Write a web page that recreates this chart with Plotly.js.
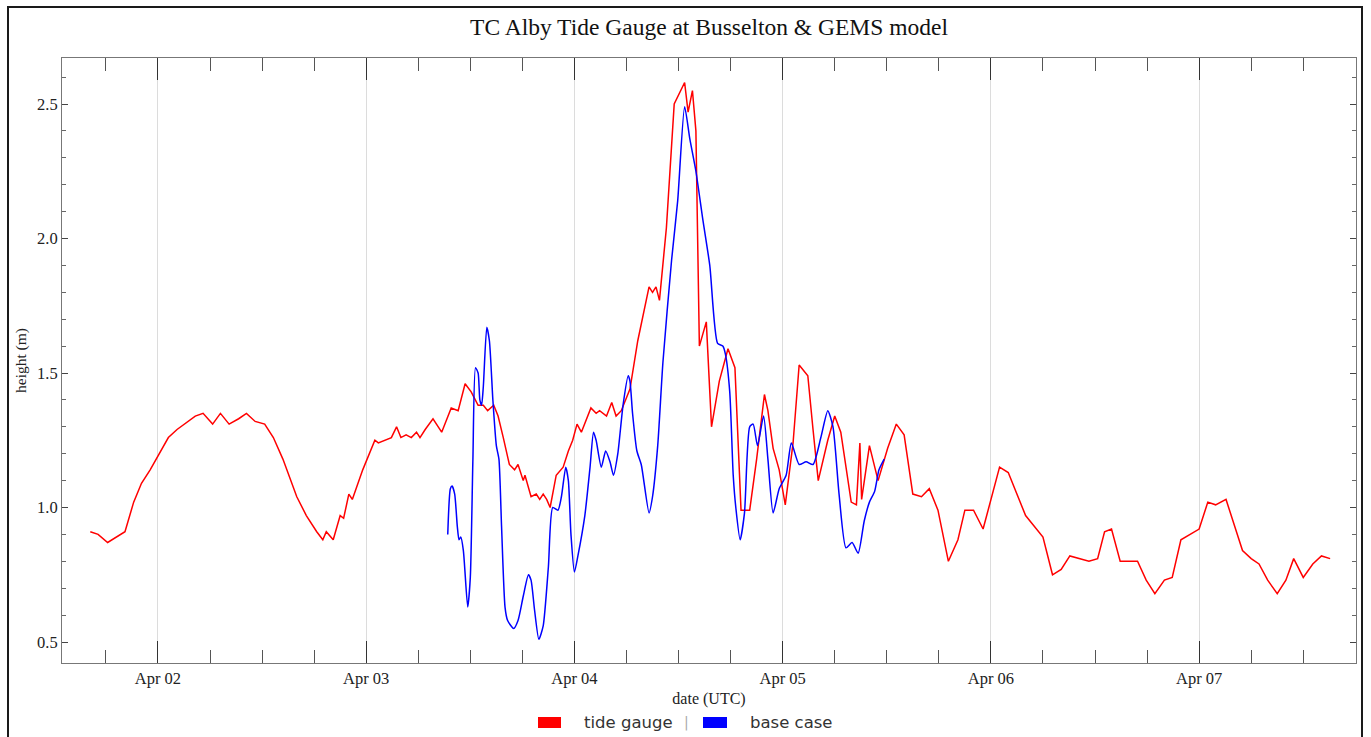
<!DOCTYPE html>
<html>
<head>
<meta charset="utf-8">
<script src="https://cdn.plot.ly/plotly-3.0.1.min.js"></script>
<style>
  html, body { margin: 0; padding: 0; background: #fff; }
  #wrap { position: relative; width: 1371px; height: 737px; overflow: hidden; }
  #chart { width: 1371px; height: 737px; }
  #frame { position: absolute; left: 7px; top: 6px; width: 1356px; height: 760px;
           border: 2px solid #1a1a1a; box-sizing: border-box; pointer-events: none; }
</style>
</head>
<body>
<div id="wrap">
  <div id="chart"></div>
  <div id="frame"></div>
</div>
<script>
// Hours since 1978-04-01 00:00 UTC
const tideHours = [16.2,17.1,18.2,19.2,20.2,21.2,22.1,23.1,24.0,25.2,
  26.2,27.1,28.3,29.2,30.3,31.2,32.2,33.3,34.2,35.2,
  36.3,37.3,38.4,40.0,41.1,42.3,43.0,43.4,44.2,45.0,
  45.4,46.0,46.4,47.6,49.0,49.4,50.9,51.5,52.0,52.6,
  53.2,53.8,54.2,54.8,55.7,56.7,57.8,58.6,59.4,60.1,
  60.9,61.5,62.0,62.7,63.2,63.8,64.5,65.1,65.5,66.1,
  66.3,67.0,67.6,68.0,68.4,68.8,69.2,69.9,70.7,71.3,
  71.8,72.3,72.8,73.9,74.5,74.9,75.7,76.3,76.8,77.4,
  78.4,79.3,80.1,80.6,81.0,81.4,81.8,82.6,83.5,84.3,
  84.7,85.1,85.6,86.0,86.4,87.2,87.8,88.7,89.7,90.5,
  91.2,92.2,93.0,93.9,94.3,94.9,95.6,96.3,97.2,97.9,
  98.9,99.5,100.1,101.2,102.0,102.7,103.9,104.5,104.9,105.1,
  106.0,107.0,108.1,109.1,110.0,111.0,112.0,112.9,113.9,115.1,
  116.2,117.0,118.0,119.1,121.0,122.0,124.0,126.0,127.1,128.1,
  129.1,131.3,132.3,133.1,133.9,134.9,136.0,136.9,137.9,138.9,
  140.0,140.9,141.9,143.0,144.0,145.0,145.9,147.1,149.0,150.0,
  150.9,151.9,153.0,154.0,154.9,156.0,157.1,158.1,159.1];
const tideHeight = [0.91,0.90,0.87,0.89,0.91,1.02,1.09,1.14,1.19,1.26,
  1.29,1.31,1.34,1.35,1.31,1.35,1.31,1.33,1.35,1.32,
  1.31,1.26,1.18,1.04,0.97,0.91,0.88,0.91,0.88,0.97,
  0.96,1.05,1.03,1.14,1.25,1.24,1.26,1.30,1.26,1.27,
  1.26,1.28,1.26,1.29,1.33,1.28,1.37,1.36,1.46,1.43,
  1.38,1.38,1.36,1.38,1.34,1.26,1.16,1.14,1.16,1.10,
  1.12,1.04,1.05,1.03,1.05,1.03,1.00,1.12,1.15,1.21,
  1.25,1.31,1.28,1.37,1.35,1.36,1.34,1.39,1.34,1.36,
  1.44,1.62,1.74,1.82,1.80,1.82,1.77,2.04,2.50,2.55,
  2.58,2.47,2.55,2.40,1.60,1.69,1.30,1.47,1.59,1.52,
  0.99,0.99,1.18,1.42,1.36,1.22,1.14,1.01,1.24,1.53,
  1.49,1.29,1.10,1.25,1.34,1.28,1.02,1.01,1.24,1.03,
  1.23,1.10,1.22,1.31,1.27,1.05,1.04,1.07,0.99,0.80,
  0.88,0.99,0.99,0.92,1.15,1.13,0.97,0.89,0.75,0.77,
  0.82,0.80,0.81,0.91,0.92,0.80,0.80,0.80,0.73,0.68,
  0.73,0.74,0.88,0.90,0.92,1.02,1.01,1.03,0.84,0.81,
  0.79,0.73,0.68,0.73,0.81,0.74,0.79,0.82,0.81];

const baseHours = [57.4,57.7,57.9,58.2,58.5,58.7,58.9,59.2,59.7,60.0,
  60.3,60.6,60.9,61.1,61.3,61.5,61.9,62.2,62.6,63.0,
  63.3,63.6,64.0,64.3,65.0,65.5,66.1,66.7,67.0,67.4,
  67.9,68.4,69.0,69.5,70.1,70.5,71.0,71.3,71.6,72.0,
  72.4,73.2,73.8,74.2,74.5,75.1,75.6,76.1,76.5,77.0,
  77.6,78.2,78.4,78.7,79.2,79.7,80.6,81.0,81.6,82.2,
  83.2,83.9,84.7,85.3,86.0,86.8,87.6,88.5,89.1,89.4,
  89.9,90.3,90.6,91.1,91.6,92.2,92.6,93.1,93.8,94.3,
  94.9,95.6,96.4,97.0,97.9,98.7,99.5,100.4,101.2,101.8,
  102.5,103.3,104.0,104.7,105.4,106.0,106.6,107.1,107.7];
const baseHeight = [0.90,1.07,1.08,1.05,0.93,0.88,0.89,0.84,0.63,0.74,
  1.18,1.52,1.50,1.40,1.38,1.45,1.67,1.62,1.40,1.23,
  1.18,0.93,0.63,0.58,0.55,0.58,0.67,0.75,0.73,0.62,
  0.51,0.56,0.78,1.00,0.99,1.04,1.15,1.10,0.90,0.76,
  0.82,0.97,1.15,1.28,1.25,1.15,1.21,1.17,1.12,1.20,
  1.38,1.49,1.47,1.35,1.21,1.16,0.98,1.04,1.23,1.54,
  1.92,2.14,2.49,2.37,2.25,2.07,1.90,1.61,1.60,1.57,
  1.43,1.12,1.00,0.88,0.98,1.30,1.31,1.23,1.34,1.18,
  0.98,1.07,1.12,1.24,1.16,1.17,1.16,1.26,1.36,1.30,
  1.05,0.85,0.87,0.83,0.95,1.02,1.06,1.14,1.18];

const seriesNames = ['tide gauge', 'base case'];
const seriesColors = ['#ff0000', '#0000ff'];

const BASE = Date.UTC(1978, 3, 1, 0, 0, 0);
function pad(n) { return (n < 10 ? '0' : '') + n; }
function toDate(h) {
  const d = new Date(BASE + Math.round(h * 3600000));
  return d.getUTCFullYear() + '-' + pad(d.getUTCMonth() + 1) + '-' + pad(d.getUTCDate()) +
    ' ' + pad(d.getUTCHours()) + ':' + pad(d.getUTCMinutes()) + ':' + pad(d.getUTCSeconds());
}

const serif = 'Liberation Serif, DejaVu Serif, serif';
const sans = 'DejaVu Sans, Liberation Sans, sans-serif';

const traces = [
  { x: tideHours.map(toDate), y: tideHeight, type: 'scatter', mode: 'lines',
    name: seriesNames[0], line: { color: seriesColors[0], width: 1.5 }, showlegend: false },
  { x: baseHours.map(toDate), y: baseHeight, type: 'scatter', mode: 'lines',
    name: seriesNames[1], line: { color: seriesColors[1], width: 1.5, shape: 'spline', smoothing: 0.6 }, showlegend: false }
];

const W = 1371, H = 737, L = 62, R = 15, T = 58, B = 74;
const pw = W - L - R, ph = H - T - B;
function px2x(px) { return (px - L) / pw; }
function py2y(py) { return (H - B - py) / ph; }

const layout = {
  width: W, height: H,
  margin: { l: L, r: R, t: T, b: B },
  paper_bgcolor: '#ffffff', plot_bgcolor: '#ffffff',
  font: { family: serif, color: '#222', size: 16 },
  title: { text: 'TC Alby Tide Gauge at Busselton &amp; GEMS model', x: 0.5, xref: 'paper',
           y: 1 - 27 / H, yanchor: 'middle', font: { family: serif, size: 23.5, color: '#111' } },
  xaxis: {
    type: 'date',
    range: [toDate(12.94), toDate(162.08)],
    tick0: '1978-04-01', dtick: 86400000, tickformat: '%b %d',
    ticks: 'inside', ticklen: 22, tickcolor: '#333', tickwidth: 1,
    minor: { dtick: 21600000, ticks: 'inside', ticklen: 13, tickcolor: '#555', tickwidth: 1, showgrid: false },
    showgrid: true, gridcolor: '#dcdcdc', gridwidth: 1,
    showline: true, linecolor: '#777', linewidth: 1, mirror: 'ticks',
    zeroline: false,
    tickfont: { family: serif, size: 16.5, color: '#222' },
    title: { text: 'date (UTC)', standoff: 6, font: { family: serif, size: 16, color: '#222' } }
  },
  yaxis: {
    range: [0.422, 2.671],
    tick0: 0.5, dtick: 0.5, tickformat: '.1f',
    ticks: 'inside', ticklen: 6, tickcolor: '#444', tickwidth: 1,
    minor: { dtick: 0.1, ticks: 'inside', ticklen: 4, tickcolor: '#666', tickwidth: 1, showgrid: false },
    showgrid: false,
    showline: true, linecolor: '#777', linewidth: 1, mirror: 'ticks',
    zeroline: false,
    tickfont: { family: serif, size: 16.5, color: '#222' },
    title: { text: 'height (m)', standoff: 6, font: { family: serif, size: 15.5, color: '#222' } }
  },
  shapes: [
    { type: 'rect', xref: 'paper', yref: 'paper', x0: px2x(538), x1: px2x(561), y0: py2y(728), y1: py2y(717),
      fillcolor: seriesColors[0], line: { width: 0 } },
    { type: 'rect', xref: 'paper', yref: 'paper', x0: px2x(703), x1: px2x(727), y0: py2y(728), y1: py2y(717),
      fillcolor: seriesColors[1], line: { width: 0 } }
  ],
  annotations: [
    { xref: 'paper', yref: 'paper', x: px2x(582), y: py2y(722), xanchor: 'left', yanchor: 'middle',
      text: seriesNames[0], showarrow: false, font: { family: sans, size: 16.5, color: '#333' } },
    { xref: 'paper', yref: 'paper', x: px2x(686), y: py2y(722), xanchor: 'center', yanchor: 'middle',
      text: '|', showarrow: false, font: { family: sans, size: 14, color: '#aaa' } },
    { xref: 'paper', yref: 'paper', x: px2x(748), y: py2y(722), xanchor: 'left', yanchor: 'middle',
      text: seriesNames[1], showarrow: false, font: { family: sans, size: 16.5, color: '#333' } }
  ],
  showlegend: false
};

Plotly.newPlot('chart', traces, layout, { displayModeBar: false, staticPlot: true });
</script>
</body>
</html>
